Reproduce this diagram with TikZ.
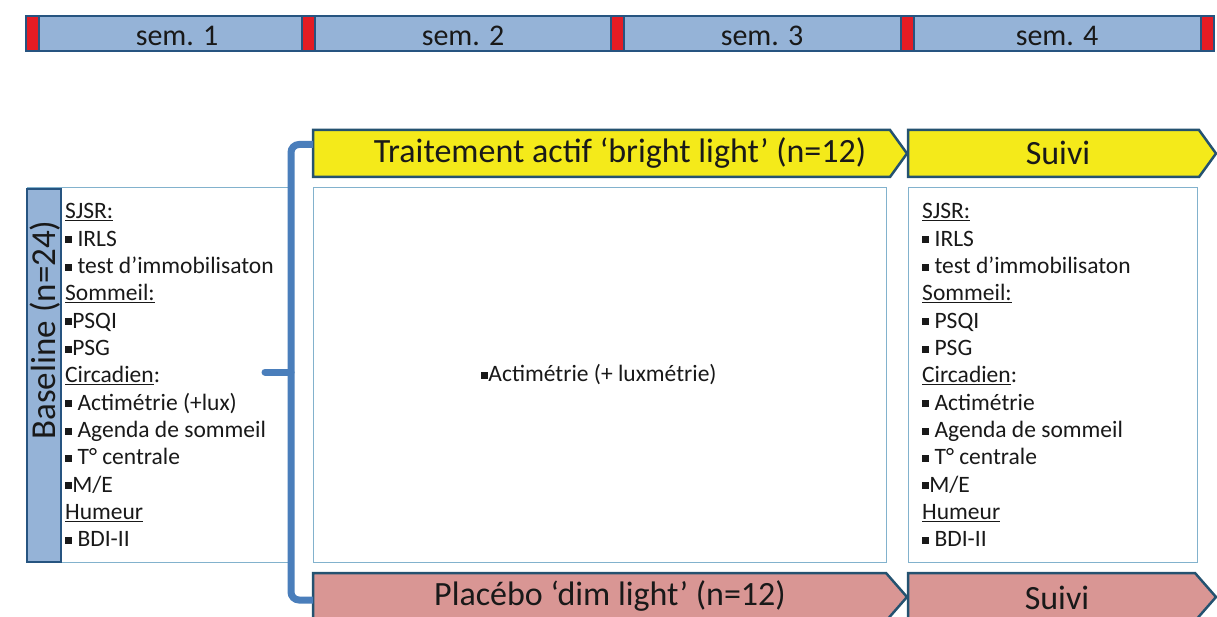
\documentclass[tikz,border=0pt]{standalone}
\usepackage{fontspec}
\setmainfont{Carlito}
\definecolor{barblue}{RGB}{149,179,215}
\definecolor{bardark}{RGB}{38,84,128}
\definecolor{segred}{RGB}{228,28,36}
\definecolor{hdryellow}{RGB}{244,234,26}
\definecolor{hdrpink}{RGB}{217,150,148}
\definecolor{hdrline}{RGB}{36,82,112}
\definecolor{bracecol}{RGB}{74,126,187}
\definecolor{boxline}{RGB}{130,178,205}
\definecolor{txt}{RGB}{25,25,25}
\newcommand\bsq{\rule[0.12em]{0.3em}{0.3em}}
\newcommand\ulx[1]{\underline{#1}}
\begin{document}
\begin{tikzpicture}[x=1pt,y=-1pt,
  seg/.style={fill=barblue,draw=bardark,line width=2.5pt},
  redseg/.style={fill=segred,draw=bardark,line width=1.5pt},
  weektxt/.style={font=\fontsize{30}{32}\selectfont,text=txt,inner sep=0pt},
  hdr/.style={draw=hdrline,line width=2.5pt,line join=miter},
  hdrtxt/.style={font=\fontsize{34}{36}\selectfont,text=txt,inner sep=0pt},
  panel/.style={draw=boxline,line width=1pt,fill=white},
  listtxt/.style={font=\fontsize{23.5}{26}\selectfont,text=txt,inner sep=0pt,anchor=base west},
  brace/.style={draw=bracecol,line width=7pt,rounded corners=8pt}]
\useasboundingbox (0,0) rectangle (1217,617);
\clip (0,0) rectangle (1217,617);
\fill[white] (0,0) rectangle (1217,617);
% top week bar
\foreach \a/\b in {39/302,315/611,624/901,914/1201}
  \draw[seg] (\a,16) rectangle (\b,51);
\foreach \a in {26,302,611,901,1201}
  \draw[redseg] (\a,16) rectangle ({\a+13},51);
\node[weektxt] (w1) at (177,36) {sem. 1};
\node[weektxt] (w2) at (463,36) {sem. 2};
\node[weektxt] (w3) at (762,36) {sem. 3};
\node[weektxt] (w4) at (1057,36) {sem. 4};
% panels
\draw[panel] (27,188) rectangle (291,562);
\draw[panel] (313,188) rectangle (886,562);
\draw[panel] (908,188) rectangle (1197,562);
% baseline bar
\draw[fill=barblue,draw=bardark,line width=2.5pt] (27,189) rectangle (61,562);
\node[rotate=90,font=\fontsize{35}{37}\selectfont,text=txt,inner sep=0pt] (base) at (45,330) {Baseline (n=24)};
% header arrows
\fill[hdryellow] (313,130) -- (890,130) -- (907,153.5) -- (890,177) -- (313,177) -- cycle;
\draw[hdr] (313,130) -- (890,130) -- (907,153.5) -- (890,177) -- (313,177) -- cycle;
\fill[hdryellow] (908,130) -- (1199,130) -- (1216,153.5) -- (1199,177) -- (908,177) -- cycle;
\draw[hdr] (908,130) -- (1199,130) -- (1216,153.5) -- (1199,177) -- (908,177) -- cycle;
\fill[hdrpink] (313,573) -- (886,573) -- (907,597) -- (886,621) -- (313,621) -- cycle;
\draw[hdr] (313,573) -- (886,573) -- (907,597) -- (886,621) -- (313,621) -- cycle;
\fill[hdrpink] (908,573) -- (1195,573) -- (1216,597) -- (1195,621) -- (908,621) -- cycle;
\draw[hdr] (908,573) -- (1195,573) -- (1216,597) -- (1195,621) -- (908,621) -- cycle;
\node[hdrtxt] (t1) at (620,153) {Traitement actif ‘bright light’ (n=12)};
\node[hdrtxt] (t2) at (1058,153) {Suivi};
\node[hdrtxt] (t3) at (610,596) {Placébo ‘dim light’ (n=12)};
\node[hdrtxt] (t4) at (1057,598) {Suivi};
% brace
\coordinate (bt) at (313,144.5);
\coordinate (bb) at (313,600);
\coordinate (bm) at (291,372);
\coordinate (bk) at (265,372);
\draw[brace] (bt) -- (291,144.5) -- (291,600) -- (bb);
\draw[draw=bracecol,line width=7pt,line cap=round] (bk) -- (bm);
% middle text
\node[font=\fontsize{23.5}{26}\selectfont,text=txt,inner sep=0pt] (mid) at (599,375) {\bsq Actimétrie (+ luxmétrie)};
% left list
\foreach \t [count=\i] in {{\ulx{SJSR:}},{\bsq\ IRLS},{\bsq\ test d’immobilisaton},{\ulx{Sommeil:}},{\bsq PSQI},{\bsq PSG},{\ulx{Circadien}:},{\bsq\ Actimétrie (+lux)},{\bsq\ Agenda de sommeil},{\bsq\ T° centrale},{\bsq M/E},{\ulx{Humeur}},{\bsq\ BDI-II}}
  \node[listtxt] (L\i) at (65,{219+27.3*(\i-1)}) {\t};
% right list
\foreach \t [count=\i] in {{\ulx{SJSR:}},{\bsq\ IRLS},{\bsq\ test d’immobilisaton},{\ulx{Sommeil:}},{\bsq\ PSQI},{\bsq\ PSG},{\ulx{Circadien}:},{\bsq\ Actimétrie},{\bsq\ Agenda de sommeil},{\bsq\ T° centrale},{\bsq M/E},{\ulx{Humeur}},{\bsq\ BDI-II}}
  \node[listtxt] (R\i) at (922,{219+27.3*(\i-1)}) {\t};
\end{tikzpicture}
\end{document}
